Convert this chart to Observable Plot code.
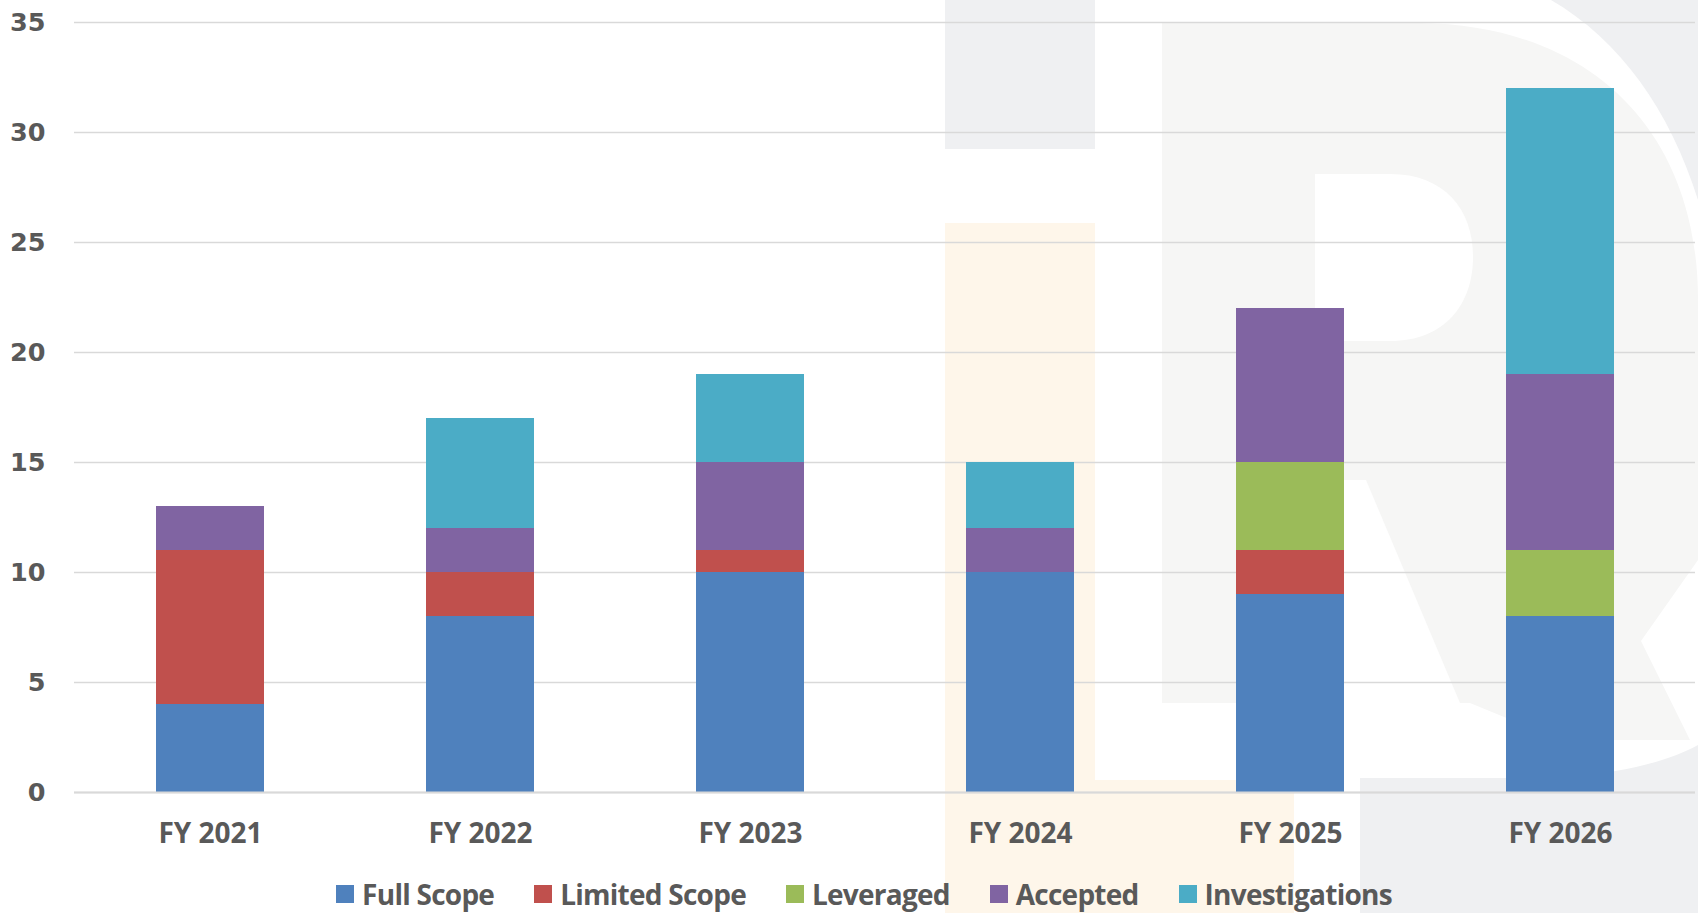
<!DOCTYPE html>
<html>
<head>
<meta charset="utf-8">
<script src="https://cdn.jsdelivr.net/npm/d3@7"></script>
<script src="https://cdn.jsdelivr.net/npm/@observablehq/plot@0.6"></script>
<style>
  html, body { margin: 0; padding: 0; background: #fff; }
  body { width: 1698px; height: 913px; overflow: hidden; font-family: "Open Sans", sans-serif; position: relative; }
  #watermark { position: absolute; left: 0; top: 0; z-index: 0; }
  #chart, .legend { position: relative; z-index: 1; }
  .legend { display: flex; justify-content: center; align-items: center; padding-left: 30px; height: 53px; margin-top: 7px;
            font-family: "Open Sans", sans-serif; font-weight: 700; font-size: 28px; color: #595959; letter-spacing: -0.75px; }
  .legend .item { display: flex; align-items: center; margin: 0 20px; }
  .legend .sw { width: 18px; height: 18px; margin-right: 8px; }
</style>
</head>
<body>
<!-- faint background logo watermark (decoration, not data) -->
<svg id="watermark" width="1698" height="913">
  <path d="M1551,0 H1698 V200 C1670,110 1620,40 1551,0 Z" fill="#eff0f2"/>
  <path d="M1360,913 V778 H1560 C1630,772 1670,760 1698,745 V913 Z" fill="#eff0f2"/>
  <rect x="945" y="0" width="150" height="149" fill="#eff0f2"/>
  <rect x="945" y="223" width="150" height="690" fill="#fef6ea"/>
  <rect x="1095" y="780" width="199" height="133" fill="#fef6ea"/>
  <path d="M1162,23 H1420 C1590,25 1698,130 1698,300 V560 L1641,641 L1690,740 H1560 L1470,703 H1162 Z" fill="#f6f6f5"/>
  <path d="M1315,174 H1390 C1445,174 1473,210 1473,257 C1473,304 1445,341 1390,341 H1315 Z" fill="#fff"/>
  <path d="M1315,480 H1366 L1460,703 H1315 Z" fill="#fff"/>
</svg>
<div id="chart"></div>
<div class="legend" id="legend"></div>
<script>
const years = ["FY 2021", "FY 2022", "FY 2023", "FY 2024", "FY 2025", "FY 2026"];
const seriesNames = ["Full Scope", "Limited Scope", "Leveraged", "Accepted", "Investigations"];
const seriesColors = ["#4f81bd", "#c0504d", "#9bbb59", "#8064a2", "#4bacc6"];
const fullScope      = [4, 8, 10, 10, 9, 8];
const limitedScope   = [7, 2, 1, 0, 2, 0];
const leveraged      = [0, 0, 0, 0, 4, 3];
const accepted       = [2, 2, 4, 2, 7, 8];
const investigations = [0, 5, 4, 3, 0, 13];
const yTicks = [0, 5, 10, 15, 20, 25, 30, 35];

const seriesValues = [fullScope, limitedScope, leveraged, accepted, investigations];
const data = [];
seriesNames.forEach((s, si) => {
  years.forEach((y, yi) => data.push({ year: y, series: s, value: seriesValues[si][yi] }));
});

const chart = Plot.plot({
  width: 1698,
  height: 860,
  marginTop: 22,
  marginBottom: 68,
  marginLeft: 74,
  marginRight: 3,
  style: { fontFamily: "Open Sans, sans-serif", background: "transparent", overflow: "visible" },
  x: { domain: years, paddingInner: 0.6, paddingOuter: 0.3, label: null },
  y: { domain: [0, 35], ticks: yTicks, label: null },
  color: { domain: seriesNames, range: seriesColors },
  marks: [
    Plot.gridY(yTicks, { stroke: "#d9d9d9", strokeOpacity: 1, strokeWidth: 1.5 }),
    Plot.barY(data, { x: "year", y: "value", fill: "series" }),
    Plot.ruleY([0], { stroke: "#d9d9d9", strokeWidth: 2 }),
    Plot.axisY(yTicks, { tickSize: 0, tickPadding: 29, fontSize: 25.5, fontWeight: 700, fill: "#595959", label: null,
      fontFamily: "DejaVu Sans, sans-serif" }),
    Plot.axisX({ tickSize: 0, tickPadding: 31, fontSize: 28, fontWeight: 700, fill: "#595959", label: null })
  ]
});
document.getElementById("chart").appendChild(chart);

const legend = document.getElementById("legend");
seriesNames.forEach((s, i) => {
  const item = document.createElement("div");
  item.className = "item";
  const sw = document.createElement("span");
  sw.className = "sw";
  sw.style.background = seriesColors[i];
  const t = document.createElement("span");
  t.textContent = s;
  item.appendChild(sw);
  item.appendChild(t);
  legend.appendChild(item);
});
</script>
</body>
</html>
